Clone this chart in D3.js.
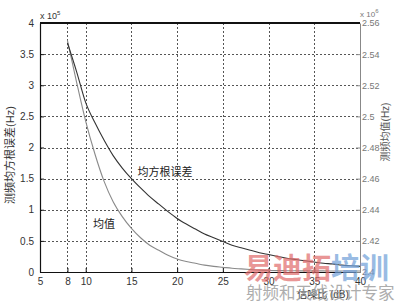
<!DOCTYPE html>
<html>
<head>
<meta charset="utf-8">
<script src="https://cdn.jsdelivr.net/npm/d3@7"></script>
<style>
  body { margin: 0; background: #fff; }
  svg { display: block; font-family: Arial, "Liberation Sans", "Noto Sans CJK SC", sans-serif; }
</style>
</head>
<body>
<div id="chart"></div>
<script>
// SNR (dB)
var snr = [8, 9, 10, 11, 12, 13, 14, 15, 16, 17, 18, 19, 20, 21, 22, 23, 24,
  25, 26, 27, 28, 29, 30, 31, 32, 33, 34, 35, 36, 37, 38, 39, 40];
// rms error, x 10^5 Hz (left axis)
var rmsErr = [3.68, 3.22, 2.72, 2.40, 2.12, 1.87, 1.67, 1.50, 1.35, 1.21, 1.09, 0.97,
  0.86, 0.77, 0.69, 0.61, 0.55, 0.49, 0.43, 0.39, 0.35, 0.31, 0.28, 0.25, 0.22,
  0.20, 0.18, 0.16, 0.14, 0.13, 0.11, 0.10, 0.09];
// mean, x 10^6 Hz (right axis)
var meanVal = [2.5488, 2.522, 2.4968, 2.476, 2.4584, 2.4452, 2.4356, 2.428, 2.422,
  2.4172, 2.414, 2.4108, 2.4084, 2.4068, 2.4056, 2.4044, 2.4036, 2.403, 2.4024,
  2.402, 2.4016, 2.4012, 2.401, 2.4009, 2.4008, 2.4008, 2.4007, 2.4007, 2.4007,
  2.4006, 2.4006, 2.4006, 2.4006];

var xTicks = [5, 8, 10, 15, 20, 25, 30, 35, 40];
var yLeftTicks = [0, 0.5, 1, 1.5, 2, 2.5, 3, 3.5, 4];
var yRightTicks = [2.4, 2.42, 2.44, 2.46, 2.48, 2.5, 2.52, 2.54, 2.56];

var width = 400, height = 303;
var m = { left: 40, right: 360, top: 23, bottom: 272 };

var svg = d3.select("#chart").append("svg")
  .attr("width", width)
  .attr("height", height);

var x = d3.scaleLinear().domain([5, 40]).range([m.left, m.right]);
var yL = d3.scaleLinear().domain([0, 4]).range([m.bottom, m.top]);
var yR = d3.scaleLinear().domain([2.4, 2.56]).range([m.bottom, m.top]);

// grid
var grid = svg.append("g").attr("stroke", "#555").attr("stroke-width", 1)
  .attr("stroke-dasharray", "2,2");
grid.selectAll(".gx").data(xTicks.slice(1, -1)).enter().append("line")
  .attr("x1", d => Math.round(x(d)) + 0.5).attr("x2", d => Math.round(x(d)) + 0.5)
  .attr("y1", m.top).attr("y2", m.bottom);
grid.selectAll(".gy").data(yLeftTicks.slice(1, -1)).enter().append("line")
  .attr("x1", m.left).attr("x2", m.right)
  .attr("y1", d => Math.round(yL(d)) + 0.5).attr("y2", d => Math.round(yL(d)) + 0.5);

// axes
var axB = svg.append("g").attr("transform", "translate(0," + m.bottom + ")")
  .call(d3.axisBottom(x).tickValues(xTicks).tickSizeInner(-4).tickSizeOuter(0).tickPadding(6));
var axL = svg.append("g").attr("transform", "translate(" + m.left + ",0)")
  .call(d3.axisLeft(yL).tickValues(yLeftTicks).tickSizeInner(-4).tickSizeOuter(0).tickPadding(6)
    .tickFormat(d3.format("")));
var axR = svg.append("g").attr("transform", "translate(" + m.right + ",0)")
  .call(d3.axisRight(yR).tickValues(yRightTicks).tickSizeInner(-4).tickSizeOuter(0).tickPadding(2)
    .tickFormat(d3.format("~g")));

[axB, axL].forEach(function (a) {
  a.select(".domain").attr("stroke", "#111").attr("stroke-width", 1.2);
  a.selectAll(".tick line").attr("stroke", "#111");
  a.selectAll("text").attr("fill", "#333").style("font-size", "10px");
});
axR.select(".domain").attr("stroke", "#888");
axR.selectAll(".tick line").attr("stroke", "#888");
axR.selectAll("text").attr("fill", "#777").style("font-size", "9px");

// top border
svg.append("line").attr("x1", m.left).attr("x2", m.right)
  .attr("y1", m.top).attr("y2", m.top).attr("stroke", "#111").attr("stroke-width", 2);

// curves
var lineL = d3.line().x((d, i) => x(snr[i])).y(d => yL(d)).curve(d3.curveMonotoneX);
var lineR = d3.line().x((d, i) => x(snr[i])).y(d => yR(d)).curve(d3.curveMonotoneX);

svg.append("path").datum(meanVal).attr("d", lineR)
  .attr("fill", "none").attr("stroke", "#8a8a8a").attr("stroke-width", 1.1);
svg.append("path").datum(rmsErr).attr("d", lineL)
  .attr("fill", "none").attr("stroke", "#333").attr("stroke-width", 1.1);

// labels
svg.append("text").attr("x", 165).attr("y", 176).attr("text-anchor", "middle")
  .style("font-size", "11px").attr("fill", "#222").text("均方根误差");
svg.append("text").attr("x", 104).attr("y", 228).attr("text-anchor", "middle")
  .style("font-size", "11px").attr("fill", "#222").text("均值");

svg.append("text").attr("transform", "translate(14,155) rotate(-90)")
  .attr("text-anchor", "middle").style("font-size", "11px").attr("fill", "#333")
  .text("测频均方根误差(Hz)");
svg.append("text").attr("transform", "translate(389,132) rotate(-90)")
  .attr("text-anchor", "middle").style("font-size", "10px").attr("fill", "#555")
  .text("测频均值(Hz)");
svg.append("text").attr("x", 323).attr("y", 298).attr("text-anchor", "middle")
  .style("font-size", "10px").attr("fill", "#333").text("信噪比 (dB)");

// exponents
var e1 = svg.append("text").attr("x", 40).attr("y", 19).style("font-size", "9px").attr("fill", "#333");
e1.append("tspan").text("x 10");
e1.append("tspan").attr("dy", -4).style("font-size", "6px").text("5");
var e2 = svg.append("text").attr("x", 360).attr("y", 17).style("font-size", "8px").attr("fill", "#777");
e2.append("tspan").text("x 10");
e2.append("tspan").attr("dy", -4).style("font-size", "6px").text("6");

// watermark
var wm = svg.append("text").attr("x", 244).attr("y", 279)
  .style("font-size", "29px").style("font-weight", "bold")
  .style("font-family", "'Noto Sans CJK SC', sans-serif").attr("opacity", 0.7);
wm.append("tspan").attr("fill", "#e06a6a").text("易迪拓");
wm.append("tspan").attr("fill", "#6f9fd8").text("培训");
svg.append("text").attr("x", 246).attr("y", 299)
  .style("font-size", "16.5px").style("font-family", "'Noto Sans CJK SC', sans-serif")
  .attr("fill", "#999").attr("opacity", 0.8).text("射频和天线设计专家");
</script>
</body>
</html>
